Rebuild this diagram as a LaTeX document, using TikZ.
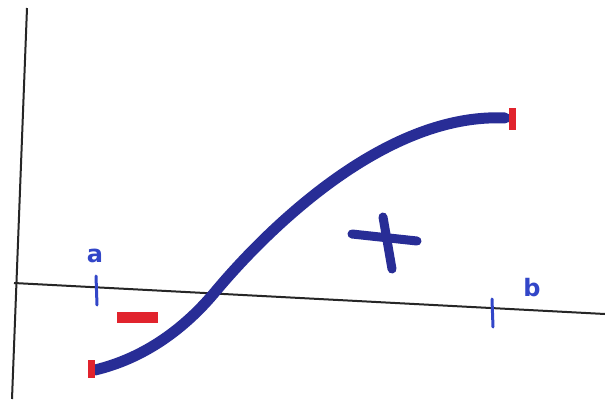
\documentclass[tikz,border=0pt]{standalone}
\usepackage{fontspec}
\setmainfont{DejaVu Sans}
\definecolor{penblue}{RGB}{40,45,150}
\definecolor{lblue}{RGB}{50,70,200}
\definecolor{penred}{RGB}{225,35,45}
\begin{document}
\begin{tikzpicture}[x=1pt,y=-1pt,
  axis/.style={line width=2pt,black!85},
  curve/.style={line width=11pt,penblue,line cap=round},
  tick/.style={line width=3pt,lblue,line cap=round},
  lbl/.style={text=lblue,font=\bfseries\fontsize{24}{24}\selectfont,inner sep=0pt}]
\useasboundingbox (0,0) rectangle (605,399);
\fill[white] (0,0) rectangle (605,399);
% axes
\coordinate (yt) at (27,8);
\coordinate (yb) at (12,399);
\coordinate (xl) at (14,283);
\coordinate (xr) at (605,314);
\draw[axis] (yt) -- (yb);
\draw[axis] (xl) -- (xr);
% curve
\coordinate (s) at (95,370);
\coordinate (m) at (215,292);
\coordinate (e) at (505,118);
\draw[curve] (s) .. controls (145,358) and (185,328) .. (m)
  .. controls (250,250) and (375,112) .. (e);
% red end marks
\fill[penred] (88,360) rectangle (95,378);
\fill[penred] (509,108) rectangle (516,130);
% ticks
\coordinate (ta1) at (96,276); \coordinate (ta2) at (97,305);
\coordinate (tb1) at (492,299); \coordinate (tb2) at (493,327);
\draw[tick] (ta1) -- (ta2);
\draw[tick] (tb1) -- (tb2);
% labels
\node[lbl] (a) at (95,256) {a};
\node[lbl] (b) at (532,288) {b};
% minus
\fill[penred] (117,312) rectangle (158,323);
% plus
\coordinate (ph1) at (352,234); \coordinate (ph2) at (417,241);
\coordinate (pv1) at (383,217); \coordinate (pv2) at (392,269);
\draw[line width=9pt,penblue,line cap=round] (ph1) -- (ph2);
\draw[line width=9pt,penblue,line cap=round] (pv1) -- (pv2);
\end{tikzpicture}
\end{document}
